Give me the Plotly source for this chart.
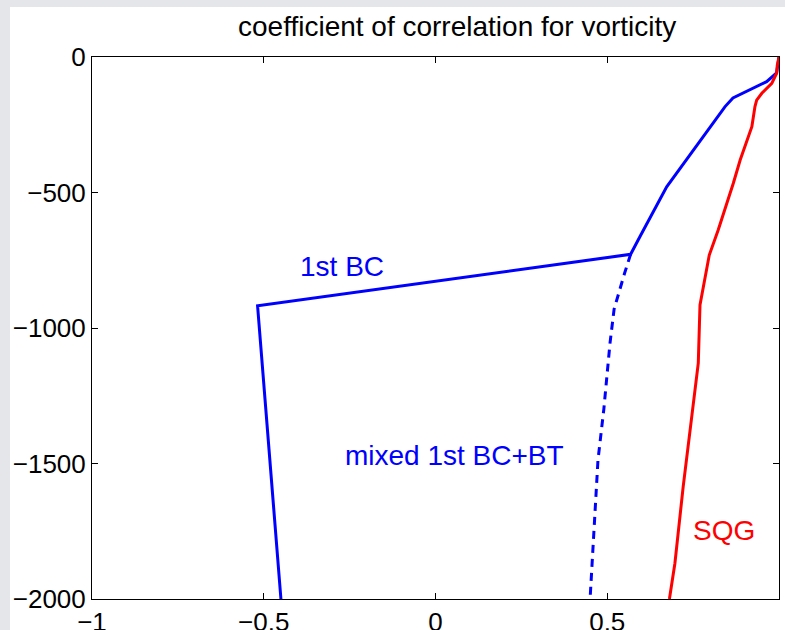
import plotly.graph_objects as go

# 1st BC (solid blue)
bc_x = [1.0, 0.993, 0.964, 0.906, 0.866, 0.843, 0.819, 0.742, 0.673, 0.595, 0.568,
        -0.518, -0.505, -0.48, -0.45]
bc_y = [0, -59, -91, -128, -151, -183, -225, -362, -479, -663, -728,
        -918, -1120, -1500, -2000]

# mixed 1st BC+BT (dashed blue)
mix_x = [0.568, 0.55, 0.52, 0.508, 0.49, 0.473, 0.45]
mix_y = [-728, -800, -930, -1056, -1300, -1487, -2000]

# SQG (red)
sqg_x = [1.0, 0.995, 0.993, 0.979, 0.950, 0.935, 0.930, 0.921, 0.887, 0.867, 0.823,
         0.797, 0.770, 0.765, 0.746, 0.721, 0.697, 0.681]
sqg_y = [0, -30, -60, -97, -134, -159, -183, -257, -380, -466, -638,
         -731, -915, -1130, -1327, -1586, -1868, -2000]

x_ticks = [-1, -0.5, 0, 0.5, 1]
x_tick_text = ["\u22121", "\u22120.5", "0", "0.5", "1"]
y_ticks = [0, -500, -1000, -1500, -2000]
y_tick_text = ["0", "\u2212500", "\u22121000", "\u22121500", "\u22122000"]

title_text = "coefficient of correlation for vorticity"

FONT = "Liberation Sans, Arial, sans-serif"

fig = go.Figure()
fig.add_trace(go.Scatter(x=bc_x, y=bc_y, mode="lines",
                         line=dict(color="#0000ff", width=3), showlegend=False))
fig.add_trace(go.Scatter(x=mix_x, y=mix_y, mode="lines",
                         line=dict(color="#0000ff", width=3, dash="8px,6px"), showlegend=False))
fig.add_trace(go.Scatter(x=sqg_x, y=sqg_y, mode="lines",
                         line=dict(color="#ff0000", width=3), showlegend=False))

fig.add_annotation(x=-0.272, y=-774, text="1st BC", showarrow=False,
                   font=dict(color="#0000ff", size=28, family=FONT))
fig.add_annotation(x=0.056, y=-1469, text="mixed 1st BC+BT", showarrow=False,
                   font=dict(color="#0000ff", size=28, family=FONT))
fig.add_annotation(x=0.840, y=-1749, text="SQG", showarrow=False,
                   font=dict(color="#ff0000", size=28, family=FONT))
fig.add_annotation(xref="paper", yref="paper", x=0.5306, y=1.0554, text=title_text,
                   showarrow=False, yanchor="middle",
                   font=dict(color="black", size=28, family=FONT))

# white figure area over grey background
fig.add_shape(type="rect", xref="paper", yref="paper",
              x0=-0.1194, x1=1.2, y0=-0.3, y1=1.0923,
              fillcolor="white", line=dict(width=0), layer="below")

axis_common = dict(showline=True, linecolor="black", linewidth=1, mirror="ticks",
                   ticks="inside", ticklen=6, tickcolor="black", tickwidth=1,
                   showgrid=False, zeroline=False, automargin=False,
                   tickfont=dict(size=26, family=FONT, color="black"))

fig.update_layout(
    width=785, height=630,
    margin=dict(l=92, r=6, t=57, b=31),
    paper_bgcolor="#e4e6ea",
    plot_bgcolor="white",
    xaxis=dict(range=[-1, 1], tickvals=x_ticks, ticktext=x_tick_text, **axis_common),
    yaxis=dict(range=[-2000, 0], tickvals=y_ticks, ticktext=y_tick_text, **axis_common),
)

fig.write_html("out.html")
